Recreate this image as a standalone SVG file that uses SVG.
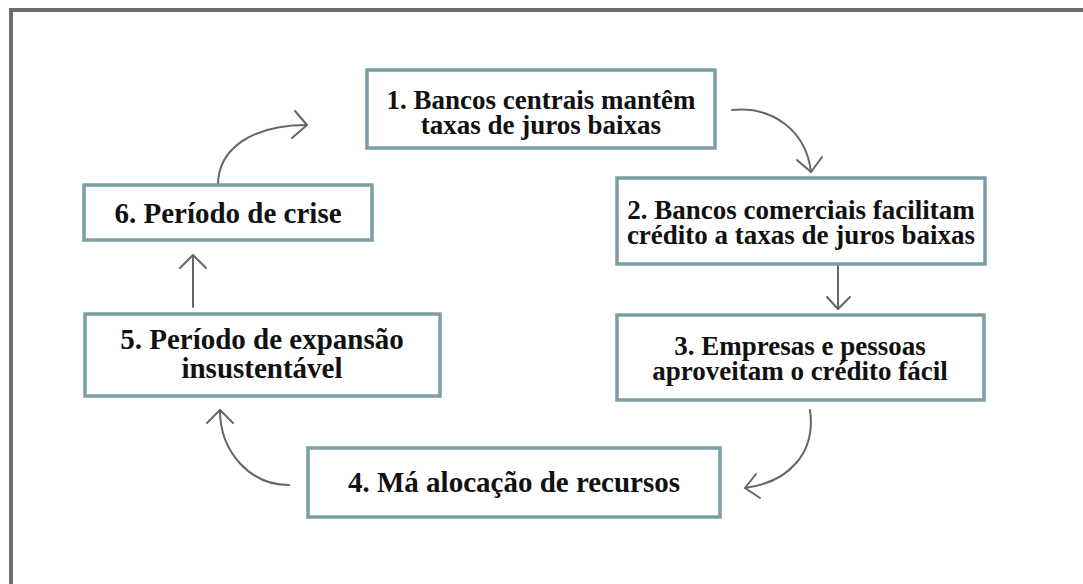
<svg xmlns="http://www.w3.org/2000/svg" width="1083" height="584" viewBox="0 0 1083 584">
<style>
.box{fill:#ffffff;stroke:#7b9ea3;stroke-width:3.5}
.t{font-family:"Liberation Serif","Times New Roman",serif;font-weight:bold;font-size:27px;fill:#111111;text-anchor:middle}
.tl{font-size:29px}
.c{fill:none;stroke:#666666;stroke-width:2;stroke-linecap:round;stroke-linejoin:round}
</style>
<rect x="0" y="0" width="1083" height="584" fill="#ffffff"/>
<rect x="11" y="10" width="1100" height="600" fill="none" stroke="#6b6e6e" stroke-width="4"/>
<g id="connectors">
<path class="c" d="M732,110 C772,106 806,130 811,172"/>
<path class="c" d="M797,160 L811,172 L822,157"/>
<path class="c" d="M838,262 L838,309"/>
<path class="c" d="M827,297 L838,309 L850,297"/>
<path class="c" d="M810,410 C816,452 790,482 745,488"/>
<path class="c" d="M756,474 L745,488 L760,498"/>
<path class="c" d="M289,485 C250,485 220,452 220,410"/>
<path class="c" d="M207,423 L220,410 L233,423"/>
<path class="c" d="M193,307 L193,255"/>
<path class="c" d="M180,268 L193,255 L206,268"/>
<path class="c" d="M218,185 C218,150 250,125 307,125"/>
<path class="c" d="M295,111 L307,125 L292,138"/>
</g>
<g id="node1">
<rect class="box" x="367" y="70" width="348" height="78"/>
<text class="t" x="541" y="109">1. Bancos centrais mantêm</text>
<text class="t" x="541" y="134">taxas de juros baixas</text>
</g>
<g id="node2">
<rect class="box" x="617" y="178" width="368" height="86"/>
<text class="t" x="801" y="219">2. Bancos comerciais facilitam</text>
<text class="t" x="801" y="244">crédito a taxas de juros baixas</text>
</g>
<g id="node3">
<rect class="box" x="617" y="315" width="367" height="85"/>
<text class="t" x="800" y="355">3. Empresas e pessoas</text>
<text class="t" x="800" y="380">aproveitam o crédito fácil</text>
</g>
<g id="node4">
<rect class="box" x="308" y="448" width="412" height="69"/>
<text class="t tl" x="514" y="492">4. Má alocação de recursos</text>
</g>
<g id="node5">
<rect class="box" x="85" y="314" width="355" height="82"/>
<text class="t tl" x="262" y="349">5. Período de expansão</text>
<text class="t tl" x="262" y="378">insustentável</text>
</g>
<g id="node6">
<rect class="box" x="84" y="185" width="288" height="55"/>
<text class="t tl" x="228" y="223">6. Período de crise</text>
</g>
</svg>
